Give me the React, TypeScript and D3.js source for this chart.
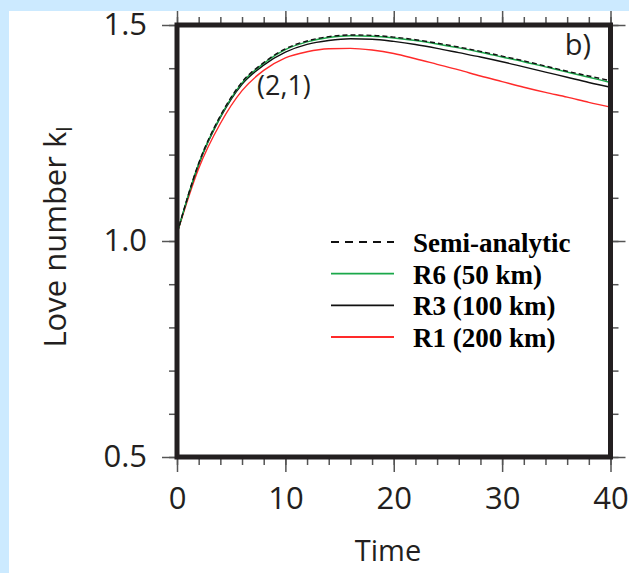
import React, { useEffect, useRef } from 'react'
import * as d3 from 'd3'

// time steps and love number curves
const times = [0, 2, 4, 6, 8, 10, 12, 14, 16, 18, 20, 22, 24, 26, 28, 30, 32, 34, 36, 38, 40]
const semiAnalytic = [1.017, 1.18, 1.29, 1.368, 1.413, 1.445, 1.463, 1.473, 1.477, 1.476, 1.472, 1.466, 1.458, 1.449, 1.439, 1.428, 1.417, 1.405, 1.393, 1.382, 1.371]
const r6 = [1.017, 1.179, 1.288, 1.366, 1.411, 1.443, 1.461, 1.471, 1.475, 1.474, 1.47, 1.464, 1.456, 1.447, 1.437, 1.426, 1.415, 1.403, 1.391, 1.379, 1.367]
const r3 = [1.017, 1.177, 1.286, 1.363, 1.407, 1.437, 1.455, 1.464, 1.468, 1.467, 1.462, 1.455, 1.446, 1.436, 1.426, 1.415, 1.403, 1.391, 1.379, 1.367, 1.356]
const r1 = [1.017, 1.168, 1.272, 1.348, 1.395, 1.424, 1.438, 1.445, 1.446, 1.442, 1.434, 1.422, 1.409, 1.396, 1.382, 1.369, 1.356, 1.344, 1.333, 1.321, 1.31]

const legendLabels = ['Semi-analytic', 'R6 (50 km)', 'R3 (100 km)', 'R1 (200 km)']
const xTicks = [0, 10, 20, 30, 40]
const yTicks = [0.5, 1.0, 1.5]

export default function App() {
  const svgRef = useRef<SVGSVGElement>(null)

  useEffect(() => {
    const svg = d3.select(svgRef.current)
    svg.selectAll('*').remove()

    const W = 629, H = 573
    const left = 177, right = 610.5, top = 25, bottom = 457
    const font = '"Open Sans", "Noto Sans", sans-serif'
    const tickColor = '#555'
    const textColor = '#231f20'

    svg.append('rect').attr('width', W).attr('height', H).attr('fill', '#cceaff')
    svg.append('rect').attr('x', 9).attr('y', 11).attr('width', W - 9).attr('height', H - 11).attr('fill', '#fff')

    const x = d3.scaleLinear().domain([0, 40]).range([left, right])
    const y = d3.scaleLinear().domain([0.5, 1.5]).range([bottom, top])

    const styleAxis = (g: any) => {
      g.select('.domain').remove()
      g.selectAll('line').attr('stroke', tickColor).attr('stroke-width', 1.5)
      g.selectAll('text').attr('fill', textColor).style('font-family', font).style('font-size', '31px')
    }

    //minor ticks on all four sides
    const xMinor = d3.range(0, 41, 2)
    const yMinor = d3.range(0.5, 1.501, 0.1)
    svg.append('g').attr('transform', `translate(0,${bottom})`)
      .call(d3.axisBottom(x).tickValues(xMinor).tickSize(8).tickFormat(() => '')).call(styleAxis)
    svg.append('g').attr('transform', `translate(0,${top})`)
      .call(d3.axisTop(x).tickValues(xMinor).tickSize(8).tickFormat(() => '')).call(styleAxis)
    svg.append('g').attr('transform', `translate(${left},0)`)
      .call(d3.axisLeft(y).tickValues(yMinor).tickSize(8).tickFormat(() => '')).call(styleAxis)
    svg.append('g').attr('transform', `translate(${right},0)`)
      .call(d3.axisRight(y).tickValues(yMinor).tickSize(8).tickFormat(() => '')).call(styleAxis)

    //major ticks
    svg.append('g').attr('transform', `translate(0,${bottom})`)
      .call(d3.axisBottom(x).tickValues(xTicks).tickSize(15).tickPadding(15).tickFormat(d3.format('d'))).call(styleAxis)
    svg.append('g').attr('transform', `translate(0,${top})`)
      .call(d3.axisTop(x).tickValues(xTicks).tickSize(14).tickFormat(() => '')).call(styleAxis)
    svg.append('g').attr('transform', `translate(${left},0)`)
      .call(d3.axisLeft(y).tickValues(yTicks).tickSize(15).tickPadding(15).tickFormat(d3.format('.1f'))).call(styleAxis)
    svg.append('g').attr('transform', `translate(${right},0)`)
      .call(d3.axisRight(y).tickValues(yTicks).tickSize(15).tickFormat(() => '')).call(styleAxis)

    //curves
    const series = [
      { values: r1, color: '#ff2a2a', dash: null },
      { values: r3, color: '#111', dash: null },
      { values: r6, color: '#1aa84a', dash: null },
      { values: semiAnalytic, color: '#111', dash: '5,3' },
    ]
    const line = d3.line<number>().x((d, i) => x(times[i])).y(d => y(d)).curve(d3.curveMonotoneX)
    series.forEach(s => {
      svg.append('path').datum(s.values).attr('fill', 'none').attr('stroke', s.color)
        .attr('stroke-width', 1.4).attr('stroke-dasharray', s.dash).attr('d', line)
    })

    //frame
    svg.append('rect').attr('x', left).attr('y', top).attr('width', right - left).attr('height', bottom - top)
      .attr('fill', 'none').attr('stroke', '#231f20').attr('stroke-width', 5)

    //annotations
    svg.append('text').attr('x', 591).attr('y', 55).attr('text-anchor', 'end')
      .style('font-family', font).style('font-size', '29px').attr('fill', textColor).text('b)')
    svg.append('text').attr('x', 257).attr('y', 95)
      .style('font-family', font).style('font-size', '27px').attr('fill', textColor).text('(2,1)')

    //axis titles
    svg.append('text').attr('x', 388).attr('y', 561).attr('text-anchor', 'middle')
      .style('font-family', font).style('font-size', '29px').attr('fill', textColor).text('Time')
    const yl = svg.append('text').attr('transform', 'translate(66,237) rotate(-90)').attr('text-anchor', 'middle')
      .style('font-family', font).style('font-size', '31px').attr('fill', textColor)
    yl.append('tspan').text('Love number k')
    yl.append('tspan').attr('dy', 6).style('font-size', '21px').text('l')

    //legend
    const legendColors = ['#111', '#1aa84a', '#111', '#ff2a2a']
    const legendDash = ['8,6', null, null, null]
    const ly = d3.scaleLinear().domain([0, 3]).range([242, 337])
    legendLabels.forEach((lab, i) => {
      svg.append('line').attr('x1', 331).attr('x2', 394).attr('y1', ly(i)).attr('y2', ly(i))
        .attr('stroke', legendColors[i]).attr('stroke-width', 1.8).attr('stroke-dasharray', legendDash[i])
      svg.append('text').attr('x', 413).attr('y', ly(i) + 10)
        .style('font-family', '"Liberation Serif", "Times New Roman", serif').style('font-weight', 'bold')
        .style('font-size', '27px').attr('fill', '#000').text(lab)
    })
  }, [])

  return (
    <svg ref={svgRef} width={629} height={573} style={{ position: 'absolute', left: 0, top: 0 }}></svg>
  )
}
